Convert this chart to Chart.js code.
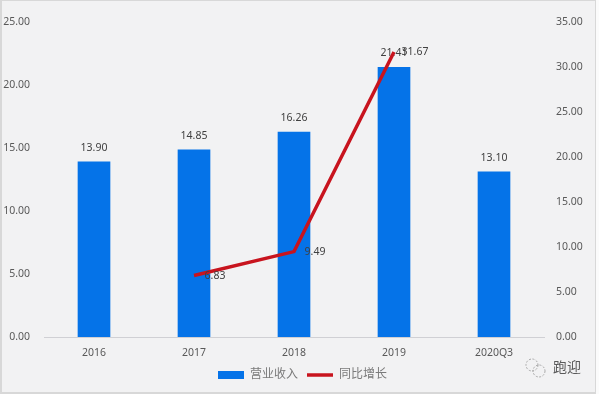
<!DOCTYPE html>
<html>
<head>
<meta charset="utf-8">
<script src="https://cdnjs.cloudflare.com/ajax/libs/Chart.js/4.4.0/chart.umd.min.js"></script>
<style>
  html, body { margin: 0; padding: 0; background: #fbfbfb; }
  #wrap { position: relative; width: 593px; height: 391px; background: #f2f2f3;
          border: 1px solid #d8d8d8; border-width: 1px 1px 2px 2px; }
  #chart { position: absolute; left: -2px; top: -1px; }
</style>
</head>
<body>
<div id="wrap"><canvas id="chart" width="599" height="394"></canvas></div>
<script>
const categories = ["2016", "2017", "2018", "2019", "2020Q3"]
const revenue = [13.90, 14.85, 16.26, 21.41, 13.10]
const growth = [null, 6.83, 9.49, 31.67, null]
const leftTicks = [0, 5, 10, 15, 20, 25]
const rightTicks = [0, 5, 10, 15, 20, 25, 30, 35]

const FONT = '"Noto Sans", "Noto Sans CJK SC", sans-serif'
const textColor = "#404040"
const tickColor = "#595959"

// value labels go straight after their own dataset, so the line covers the bar labels
const valueLabels = {
  id: "valueLabels",
  afterDatasetDraw(chart, args) {
    const ctx = chart.ctx
    const meta = chart.getDatasetMeta(args.index)
    ctx.save()
    ctx.font = "10.5px " + FONT
    ctx.fillStyle = textColor
    ctx.textAlign = "center"
    ctx.textBaseline = "middle"
    meta.data.forEach((el, i) => {
      const v = chart.data.datasets[args.index].data[i]
      if (v === null) return
      if (meta.type === "bar") ctx.fillText(v.toFixed(2), el.x, el.y - 14)
      else ctx.fillText(v.toFixed(2), el.x + 21, el.y)
    })
    ctx.restore()
  }
}

// legend sits a little right of centre in the reference
const legendShift = {
  id: "legendShift",
  afterLayout(chart) {
    chart.legend.left += 3
    chart.legend.right += 3
  }
}

const watermark = {
  id: "watermark",
  afterDraw(chart) {
    const ctx = chart.ctx
    ctx.save()
    ctx.strokeStyle = "#a8a8a8"
    ctx.lineWidth = 1
    ctx.setLineDash([2, 1.5])
    ctx.beginPath()
    ctx.arc(532, 365, 6, 0, Math.PI * 2)
    ctx.stroke()
    ctx.beginPath()
    ctx.arc(539, 371, 6, 0, Math.PI * 2)
    ctx.stroke()
    ctx.setLineDash([])
    ctx.font = "14px " + FONT
    ctx.fillStyle = "#5a5a5a"
    ctx.textAlign = "left"
    ctx.textBaseline = "middle"
    ctx.fillText("跑迎", 553, 368)
    ctx.restore()
  }
}

new Chart(document.getElementById("chart"), {
  type: "bar",
  data: {
    labels: categories,
    datasets: [
      {
        type: "bar",
        label: "营业收入",
        data: revenue,
        yAxisID: "y",
        backgroundColor: "#0573e8",
        barThickness: 32,
        order: 2
      },
      {
        type: "line",
        label: "同比增长",
        data: growth,
        yAxisID: "y1",
        borderColor: "#c8141e",
        backgroundColor: "#c8141e",
        borderWidth: 3.5,
        pointRadius: 0,
        tension: 0,
        spanGaps: false,
        order: 1
      }
    ]
  },
  options: {
    responsive: false,
    animation: false,
    layout: { padding: { top: 22, bottom: 3 } },
    scales: {
      x: {
        afterFit: (axis) => { axis.height = 23 },
        grid: { display: false, drawTicks: false },
        border: { color: "#d0d0d4" },
        ticks: { color: tickColor, font: { family: FONT, size: 10.5 }, padding: 10 }
      },
      y: {
        position: "left",
        min: 0,
        max: 25,
        afterBuildTicks: (axis) => { axis.ticks = leftTicks.map((value) => ({ value })) },
        afterFit: (axis) => { axis.width = 44 },
        grid: { display: false, drawTicks: false },
        border: { display: false },
        ticks: {
          color: tickColor,
          font: { family: FONT, size: 10.5 },
          padding: 14,
          callback: (v) => v.toFixed(2)
        }
      },
      y1: {
        position: "right",
        min: 0,
        max: 35,
        afterBuildTicks: (axis) => { axis.ticks = rightTicks.map((value) => ({ value })) },
        afterFit: (axis) => { axis.width = 55 },
        grid: { display: false, drawTicks: false },
        border: { display: false },
        ticks: {
          color: tickColor,
          font: { family: FONT, size: 10.5 },
          padding: 12,
          callback: (v) => v.toFixed(2)
        }
      }
    },
    plugins: {
      tooltip: { enabled: false },
      legend: {
        position: "bottom",
        labels: {
          color: "#7a7a7a",
          font: { family: FONT, size: 12 },
          usePointStyle: true,
          pointStyleWidth: 26,
          boxHeight: 8,
          padding: 9,
          generateLabels: (chart) => chart.data.datasets.map((ds, i) => ({
            text: ds.label,
            datasetIndex: i,
            fillStyle: ds.backgroundColor,
            strokeStyle: ds.backgroundColor,
            lineWidth: ds.type === "line" ? 3.5 : 0,
            pointStyle: ds.type === "line" ? "line" : "rect",
            fontColor: "#7a7a7a"
          }))
        }
      }
    }
  },
  plugins: [valueLabels, legendShift, watermark]
})
</script>
</body>
</html>
